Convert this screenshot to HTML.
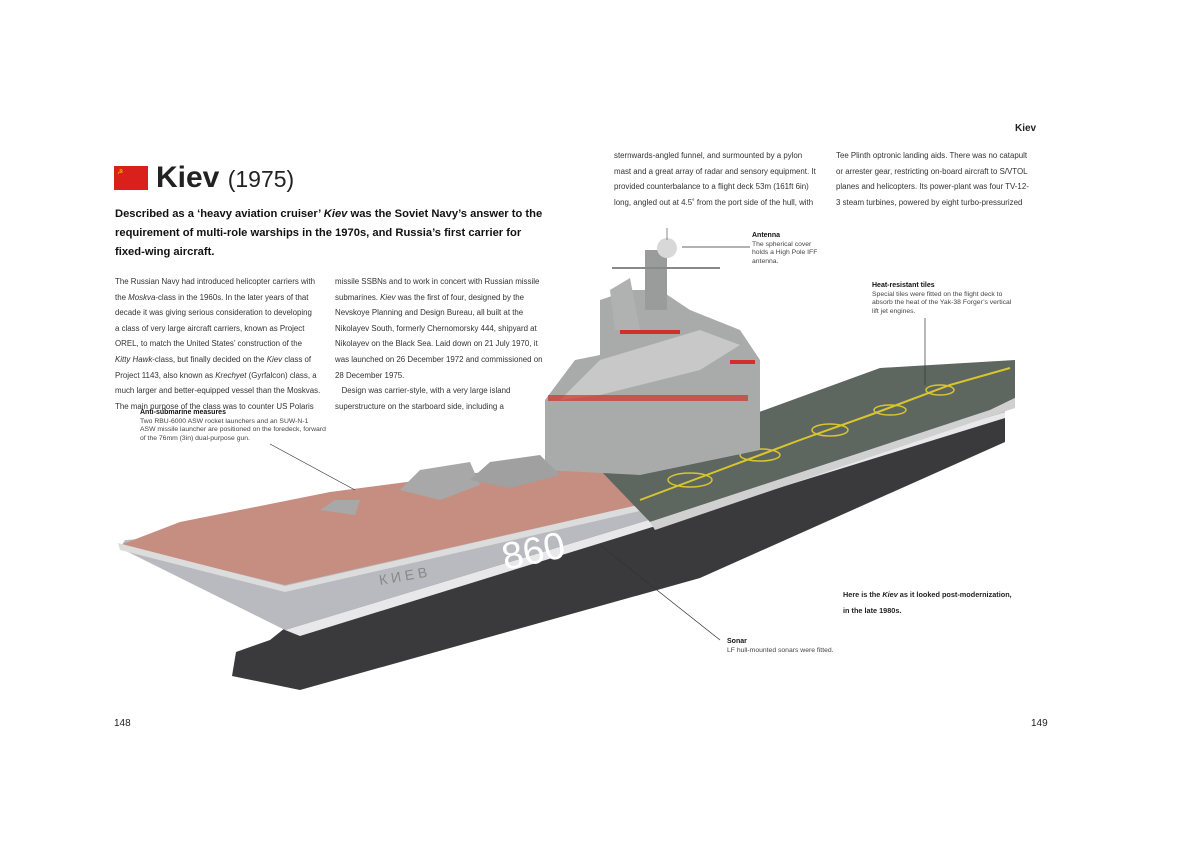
<!DOCTYPE html>
<html><head><meta charset="utf-8"><style>
body{margin:0;width:1197px;height:844px;background:#fff;position:relative;overflow:hidden;font-family:"Liberation Sans",sans-serif;color:#222}
.a{position:absolute}
.body{font-size:7.9px;line-height:15.6px;color:#333;width:218px;white-space:nowrap}
.ann{font-size:6.8px;line-height:8.6px;color:#444;white-space:nowrap}
.ann b{color:#111;font-size:7px}
</style></head><body>
<div class="a" style="left:1015px;top:123px;font-size:10px;font-weight:bold">Kiev</div>
<div class="a" style="left:114px;top:166px;width:34px;height:24px;background:#d9201a"></div>
<div class="a" style="left:117px;top:168px;color:#f5d000;font-size:7px">☭</div>
<div class="a" style="left:156px;top:160px;font-size:30px;line-height:36px"><b>Kiev</b> <span style="font-size:23px">(1975)</span></div>
<div class="a" style="left:115px;top:205px;font-size:11.2px;line-height:19px;font-weight:bold;color:#111;white-space:nowrap">Described as a ‘heavy aviation cruiser’ <i>Kiev</i> was the Soviet Navy’s answer to the<br>requirement of multi-role warships in the 1970s, and Russia’s first carrier for<br>fixed-wing aircraft.</div>
<div class="a body" style="left:115px;top:274px">The Russian Navy had introduced helicopter carriers with<br>the <i>Moskva</i>-class in the 1960s. In the later years of that<br>decade it was giving serious consideration to developing<br>a class of very large aircraft carriers, known as Project<br>OREL, to match the United States’ construction of the<br><i>Kitty Hawk</i>-class, but finally decided on the <i>Kiev</i> class of<br>Project 1143, also known as <i>Krechyet</i> (Gyrfalcon) class, a<br>much larger and better-equipped vessel than the Moskvas.<br>The main purpose of the class was to counter US Polaris</div>
<div class="a body" style="left:335px;top:274px">missile SSBNs and to work in concert with Russian missile<br>submarines. <i>Kiev</i> was the first of four, designed by the<br>Nevskoye Planning and Design Bureau, all built at the<br>Nikolayev South, formerly Chernomorsky 444, shipyard at<br>Nikolayev on the Black Sea. Laid down on 21 July 1970, it<br>was launched on 26 December 1972 and commissioned on<br>28 December 1975.<br>&nbsp;&nbsp;&nbsp;Design was carrier-style, with a very large island<br>superstructure on the starboard side, including a</div>
<div class="a body" style="left:614px;top:148px">sternwards-angled funnel, and surmounted by a pylon<br>mast and a great array of radar and sensory equipment. It<br>provided counterbalance to a flight deck 53m (161ft 6in)<br>long, angled out at 4.5˚ from the port side of the hull, with</div>
<div class="a body" style="left:836px;top:148px">Tee Plinth optronic landing aids. There was no catapult<br>or arrester gear, restricting on-board aircraft to S/VTOL<br>planes and helicopters. Its power-plant was four TV-12-<br>3 steam turbines, powered by eight turbo-pressurized</div>

<svg class="a" style="left:0;top:0" width="1197" height="844">
<polygon points="285,628 1005,410 1005,442 700,578 300,690 232,676 236,652 270,640" fill="#3a3a3c"/>
<polygon points="120,548 285,630 1005,412 1005,385 620,500 460,520 125,540" fill="#b9babf"/>
<polygon points="285,630 1005,412 1005,418 300,636" fill="#e8e8ea"/>
<polygon points="120,545 180,522 330,492 560,462 640,455 660,500 285,585" fill="#c68e80"/>
<polygon points="118,543 285,586 660,500 662,506 285,592 120,550" fill="#dcdcdc"/>
<polygon points="600,470 880,368 1015,360 1015,398 990,410 650,522" fill="#5e6660"/>
<polygon points="650,522 990,410 1015,398 1015,408 655,530" fill="#d0d0d0"/>
<polyline points="640,500 720,470 800,440 870,415 950,385 1010,368" stroke="#d8c530" stroke-width="2" fill="none"/>
<g fill="none" stroke="#d8c530" stroke-width="1.5">
<ellipse cx="690" cy="480" rx="22" ry="7"/><ellipse cx="760" cy="455" rx="20" ry="6"/><ellipse cx="830" cy="430" rx="18" ry="6"/><ellipse cx="890" cy="410" rx="16" ry="5"/><ellipse cx="940" cy="390" rx="14" ry="5"/></g>
<polygon points="545,470 545,400 575,360 600,355 600,300 630,290 660,290 690,310 740,330 760,360 760,450 640,475" fill="#a9abab"/>
<polygon points="560,400 600,360 700,330 740,345 700,370 600,395" fill="#c8c8c8"/>
<rect x="548" y="395" width="200" height="6" fill="#d0302a" opacity=".7"/>
<rect x="620" y="330" width="60" height="4" fill="#d0302a"/>
<rect x="730" y="360" width="25" height="4" fill="#d0302a"/>
<rect x="645" y="250" width="22" height="60" fill="#9a9c9c"/>
<circle cx="667" cy="248" r="10" fill="#d8d8d8"/>
<line x1="612" y1="268" x2="720" y2="268" stroke="#888" stroke-width="2"/>
<line x1="667" y1="228" x2="667" y2="240" stroke="#888"/>
<polygon points="610,290 630,278 640,330 615,330" fill="#b0b2b2"/>
<polygon points="400,490 420,470 470,462 480,485 440,500" fill="#a8a8a8"/>
<polygon points="470,480 490,462 540,455 560,475 510,488" fill="#a0a0a0"/>
<polygon points="320,510 335,500 360,500 355,515" fill="#a8a8a8"/>
<text x="505" y="570" font-family="Liberation Sans" font-size="38" fill="#fff" transform="rotate(-12 505 570)">860</text>
<text x="380" y="585" font-family="Liberation Sans" font-size="14" fill="#888" transform="rotate(-10 380 585)">К И Е В</text>
<g stroke="#333" stroke-width="0.7">
<line x1="682" y1="247" x2="750" y2="247"/>
<line x1="925" y1="318" x2="925" y2="385"/>
<line x1="270" y1="444" x2="355" y2="490"/>
<line x1="600" y1="545" x2="720" y2="640"/>
</g>
</svg>
<div class="a ann" style="left:752px;top:232px"><b>Antenna</b><br>The spherical cover<br>holds a High Pole IFF<br>antenna.</div>
<div class="a ann" style="left:872px;top:282px"><b>Heat-resistant tiles</b><br>Special tiles were fitted on the flight deck to<br>absorb the heat of the Yak-38 Forger’s vertical<br>lift jet engines.</div>
<div class="a ann" style="left:140px;top:409px"><b>Anti-submarine measures</b><br>Two RBU-6000 ASW rocket launchers and an SUW-N-1<br>ASW missile launcher are positioned on the foredeck, forward<br>of the 76mm (3in) dual-purpose gun.</div>
<div class="a ann" style="left:727px;top:638px"><b>Sonar</b><br>LF hull-mounted sonars were fitted.</div>
<div class="a" style="left:843px;top:587px;font-size:7.3px;line-height:16px;font-weight:bold;color:#222;white-space:nowrap">Here is the <i>Kiev</i> as it looked post-modernization,<br>in the late 1980s.</div>
<div class="a" style="left:114px;top:718px;font-size:10px">148</div>
<div class="a" style="left:1031px;top:718px;font-size:10px">149</div>
</body></html>
